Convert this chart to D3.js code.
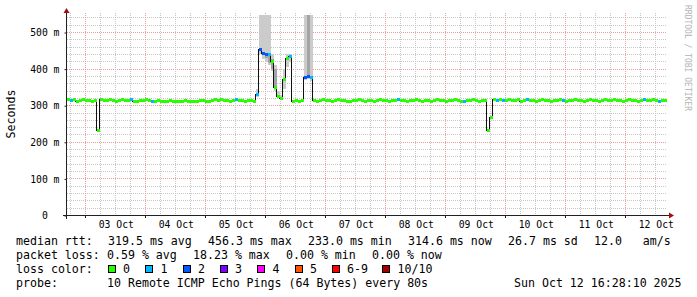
<!DOCTYPE html>
<html>
<head>
<meta charset="utf-8">
<script src="https://cdn.jsdelivr.net/npm/d3@7"></script>
<style>
  body { margin: 0; background: #fff; }
  svg text { font-family: "DejaVu Sans Mono", monospace; white-space: pre; }
</style>
</head>
<body>
<div id="chart"></div>
<script>
// graph time range, one step = 72 minutes
var startTime = new Date(2025, 9, 2, 16, 28, 10);
var endTime = new Date(2025, 9, 12, 16, 28, 10);
var stepMinutes = 72;

// median rtt per step (ms)
var median = [
  317, 315, 318, 314, 316, 317, 315, 316, 313, 315,
  233,
  318, 315, 316, 318, 315, 313, 316, 318, 315, 316,
  317, 314, 313, 316, 315, 318, 316, 314, 313, 315,
  312, 314, 312, 315, 313, 312, 314, 312, 315, 313,
  314, 312, 313, 315, 316, 314, 313, 315, 318, 316,
  317, 315, 316, 313, 315, 318, 316, 315, 313, 316,
  315, 314,
  332, 455, 444, 442, 440, 421, 350, 327, 322, 372, 430, 436,
  312, 315, 313, 316,
  379, 382, 378,
  316, 313, 315, 317, 315, 316, 313, 315, 318, 315,
  316, 313, 314, 316, 315, 317, 315, 313, 316, 315,
  313, 315, 317, 315, 316, 313, 315, 316, 318, 315,
  316, 313, 315, 316, 318, 315, 313, 316, 315, 313,
  315, 318, 315, 316, 313, 315, 316, 318, 315, 313,
  314, 316, 315, 318, 316, 313, 315, 316,
  233, 268,
  318, 315, 319, 316, 315, 317, 315, 316, 318, 314,
  316, 318, 315, 316, 313, 316, 318, 315, 316, 314,
  316, 315, 318, 316, 314, 316, 315, 318, 316, 315,
  314, 316, 318, 315, 316, 313, 316, 318, 315, 316,
  318, 315, 316, 314, 316, 318, 315, 316, 313, 316,
  318, 315, 316, 318, 315, 314, 316, 315
];

// steps that lost pings (step index, pings lost)
var lossIndex = [1, 21, 28, 56, 63, 64, 65, 66, 67, 74, 79, 80, 81, 110, 132, 143, 145, 153, 165, 192, 197];
var lossCount = [1, 1, 1, 1, 1, 2, 2, 2, 1, 1, 2, 2, 1, 1, 1, 1, 1, 1, 1, 1, 1];

// smoke (ping spread) where it shows
var smokeIndex = [63, 64, 65, 66, 67, 68, 69, 70, 71, 72, 73, 74, 79, 80, 81];
var smokeLow = [325, 440, 428, 420, 410, 395, 340, 320, 318, 345, 405, 420, 370, 372, 368];
var smokeHigh = [345, 600, 600, 600, 600, 440, 410, 340, 330, 400, 440, 442, 600, 600, 600];
var innerIndex = [66, 67, 68, 69, 80];
var innerLow = [430, 418, 400, 350, 380];
var innerHigh = [445, 442, 428, 400, 600];

// legend
var lossLabels = ["0", "1", "2", "3", "4", "5", "6-9", "10/10"];
var lossColors = ["#26ff00", "#00b8ff", "#0059ff", "#7e00ff", "#ff00ff", "#ff5500", "#ff0000", "#a10000"];
var rttRow = ["median rtt:", "319.5 ms avg", "456.3 ms max", "233.0 ms min", "314.6 ms now", "26.7 ms sd", "12.0   am/s"];
var lossRow = ["packet loss:", "0.59 % avg", "18.23 % max", "0.00 % min", "0.00 % now"];
var probeText = "10 Remote ICMP Echo Pings (64 Bytes) every 80s";
var stampText = "Sun Oct 12 16:28:10 2025";

var yTicks = [0, 100, 200, 300, 400, 500];

// svg
var svgWidth = 697, svgHeight = 297;
var plot = { left: 67, right: 667, top: 13, bottom: 215.5 };

var svg = d3.select("#chart").append("svg")
  .attr("width", svgWidth)
  .attr("height", svgHeight);

svg.append("rect").attr("width", svgWidth).attr("height", svgHeight).attr("fill", "#fff");

var xScale = d3.scaleTime().domain([startTime, endTime]).range([plot.left, plot.right]);
var yScale = d3.scaleLinear().domain([0, 553.3]).range([plot.bottom, plot.top]);

var steps = median.map(function(m, i) {
  return { t: d3.timeMinute.offset(startTime, i * stepMinutes), v: m, loss: 0 };
});
lossIndex.forEach(function(idx, k) { steps[idx].loss = lossCount[k]; });

function x0(i) { return Math.round(xScale(d3.timeMinute.offset(startTime, i * stepMinutes))); }
function x1(i) { return Math.round(xScale(d3.timeMinute.offset(startTime, (i + 1) * stepMinutes))); }
function snap(v) { return Math.floor(v) + 0.5; }

// grid
var grid = svg.append("g");
d3.range(20, 560, 20).forEach(function(v) {
  if (yScale(v) < plot.top) return;
  var major = v % 100 === 0;
  grid.append("line")
    .attr("x1", plot.left).attr("x2", plot.right)
    .attr("y1", snap(yScale(v))).attr("y2", snap(yScale(v)))
    .attr("stroke", major ? "#eb9c9c" : "#c8c8c8")
    .attr("stroke-dasharray", "1,1");
});
d3.timeHour.every(6).range(startTime, endTime).forEach(function(t) {
  var major = t.getHours() === 0;
  grid.append("line")
    .attr("x1", snap(xScale(t))).attr("x2", snap(xScale(t)))
    .attr("y1", plot.top).attr("y2", plot.bottom)
    .attr("stroke", major ? "#eb9c9c" : "#c8c8c8")
    .attr("stroke-dasharray", "1,1");
});

// graph area
svg.append("clipPath").attr("id", "clip")
  .append("rect").attr("x", plot.left).attr("y", plot.top + 2)
  .attr("width", plot.right - plot.left).attr("height", plot.bottom - plot.top - 2);
var g = svg.append("g").attr("clip-path", "url(#clip)").attr("shape-rendering", "crispEdges");

// smoke
g.selectAll("rect.smoke")
  .data(smokeIndex)
  .enter().append("rect")
  .attr("class", "smoke")
  .attr("x", d => x0(d)).attr("width", d => x1(d) - x0(d))
  .attr("y", (d, k) => Math.round(yScale(smokeHigh[k])))
  .attr("height", (d, k) => Math.round(yScale(smokeLow[k])) - Math.round(yScale(smokeHigh[k])))
  .attr("fill", "#cbcbcb");

g.selectAll("rect.inner")
  .data(innerIndex)
  .enter().append("rect")
  .attr("class", "inner")
  .attr("x", d => x0(d)).attr("width", d => x1(d) - x0(d))
  .attr("y", (d, k) => Math.round(yScale(innerHigh[k])))
  .attr("height", (d, k) => Math.round(yScale(innerLow[k])) - Math.round(yScale(innerHigh[k])))
  .attr("fill", "#a4a4a4");

// median line
var linePts = steps.map((d, i) => [x0(i) - 0.5, Math.round(yScale(d.v)) + 0.5]);
linePts.push([x1(steps.length - 1) - 0.5, Math.round(yScale(steps[steps.length - 1].v)) + 0.5]);
g.append("path")
  .attr("d", d3.line().curve(d3.curveStepAfter)(linePts))
  .attr("fill", "none")
  .attr("stroke", "#101010")
  .attr("stroke-width", 1);

// loss coloured bands
g.selectAll("rect.med")
  .data(steps)
  .enter().append("rect")
  .attr("class", "med")
  .attr("x", (d, i) => x0(i)).attr("width", (d, i) => x1(i) - x0(i))
  .attr("y", d => Math.round(yScale(d.v)) - 1)
  .attr("height", 3)
  .attr("fill", d => lossColors[d.loss]);

// axes
var axisColor = "#202020", arrowColor = "#a01010";
svg.append("line").attr("x1", 63).attr("x2", 669).attr("y1", 215.5).attr("y2", 215.5).attr("stroke", axisColor);
svg.append("line").attr("x1", 66.5).attr("x2", 66.5).attr("y1", 219).attr("y2", 13).attr("stroke", axisColor);
svg.append("path").attr("d", "M669,212.5L674,215.5L669,218.5Z").attr("fill", arrowColor);
svg.append("path").attr("d", "M63.5,13L66.5,8L69.5,13Z").attr("fill", arrowColor);

d3.timeDay.range(startTime, endTime).forEach(function(t) {
  svg.append("line")
    .attr("x1", snap(xScale(t))).attr("x2", snap(xScale(t)))
    .attr("y1", 215.5).attr("y2", 218)
    .attr("stroke", axisColor);
});

var yAxis = d3.axisLeft(yScale)
  .tickValues(yTicks)
  .tickSize(2)
  .tickPadding(5)
  .tickFormat(d => d === 0 ? "0  " : d + " m");
svg.append("g")
  .attr("transform", "translate(66.5,0)")
  .call(yAxis)
  .call(a => a.select(".domain").remove())
  .call(a => a.selectAll("line").attr("stroke", axisColor))
  .call(a => a.selectAll("text").attr("font-size", "9.75px").attr("fill", "#000")
    .attr("font-family", "DejaVu Sans Mono"));

var noons = d3.timeDay.range(startTime, endTime).map(d => d3.timeHour.offset(d, 12)).filter(d => d < endTime);
var xAxis = d3.axisBottom(xScale)
  .tickValues(noons)
  .tickSize(0)
  .tickFormat(d3.timeFormat("%d Oct"));
svg.append("g")
  .attr("transform", "translate(0,215.5)")
  .call(xAxis)
  .call(a => a.select(".domain").remove())
  .call(a => a.selectAll("text").attr("y", 12.8).attr("dy", 0).attr("font-size", "9.75px")
    .attr("fill", "#000").attr("font-family", "DejaVu Sans Mono"));

// titles
svg.append("text")
  .attr("transform", "translate(14.5,114) rotate(-90)")
  .attr("text-anchor", "middle")
  .attr("font-size", "11.6px")
  .text("Seconds");

svg.append("text")
  .attr("transform", "translate(685,5) rotate(90)")
  .attr("font-size", "8px")
  .attr("fill", "#b4b4b4")
  .text("RRDTOOL / TOBI OETIKER");

// legend
var legend = svg.append("g").attr("font-size", "11.6px").attr("fill", "#000");
var rttX = [16, 108, 208, 308, 408, 508, 594];
rttRow.forEach(function(s, i) {
  legend.append("text").attr("x", rttX[i]).attr("y", 245).text(s);
});
var lossX = [16, 107, 193, 286, 372];
lossRow.forEach(function(s, i) {
  legend.append("text").attr("x", lossX[i]).attr("y", 259).text(s);
});
legend.append("text").attr("x", 16).attr("y", 273).text("loss color:");
var boxX = [108, 145.5, 183, 220, 257.5, 295, 332, 382.5];
lossLabels.forEach(function(s, i) {
  legend.append("rect")
    .attr("x", Math.floor(boxX[i]) + 0.5).attr("y", 265.5)
    .attr("width", 7).attr("height", 7)
    .attr("fill", lossColors[i]).attr("stroke", "#000");
  legend.append("text").attr("x", boxX[i] + 15).attr("y", 273).text(s);
});
legend.append("text").attr("x", 16).attr("y", 287).text("probe:");
legend.append("text").attr("x", 107).attr("y", 287).text(probeText);
legend.append("text").attr("x", 514).attr("y", 287).text(stampText);
</script>
</body>
</html>
